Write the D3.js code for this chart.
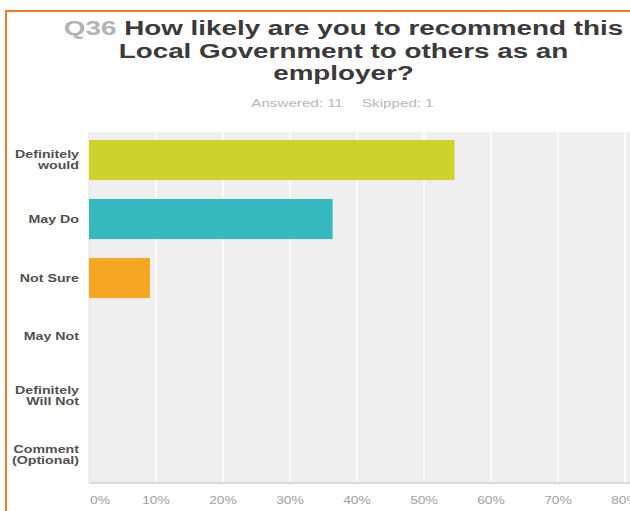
<!DOCTYPE html>
<html>
<head>
<meta charset="utf-8">
<script src="https://cdn.jsdelivr.net/npm/d3@7"></script>
<style>
  html, body { margin: 0; padding: 0; background: #ffffff; overflow: hidden; }
  svg { display: block; font-family: "Liberation Sans", Arial, Helvetica, sans-serif; }
</style>
</head>
<body>
<svg id="chart" width="630" height="511"></svg>
<script>
// ---- data ----
const questionId = "Q36";
const titleLines = ["How likely are you to recommend this", "Local Government to others as an", "employer?"];
const answeredText = "Answered: 11";
const skippedText = "Skipped: 1";
const categories = ["Definitely would", "May Do", "Not Sure", "May Not", "Definitely Will Not", "Comment (Optional)"];
const categoryLines = [["Definitely", "would"], ["May Do"], ["Not Sure"], ["May Not"], ["Definitely", "Will Not"], ["Comment", "(Optional)"]];
const values = [0.5455, 0.3636, 0.0909, 0, 0, 0];
const barColors = ["#cdd32a", "#36b8bf", "#f5a623", "#7fb3d5", "#a77bca", "#e85d75"];
const tickValues = [0, 0.1, 0.2, 0.3, 0.4, 0.5, 0.6, 0.7, 0.8];
const tickLabels = ["0%", "10%", "20%", "30%", "40%", "50%", "60%", "70%", "80%"];

// ---- layout ----
const W = 630, H = 511;
const plot = { left: 89, right: 625, top: 132, bottom: 483 };
const stretch = 1.38;

const svg = d3.select("#chart");

function widen(sel, f) {
  sel.each(function () {
    const w = this.getComputedTextLength();
    this.setAttribute("textLength", w * f);
    this.setAttribute("lengthAdjust", "spacingAndGlyphs");
  });
}

// background
svg.append("rect").attr("width", W).attr("height", H).attr("fill", "#ffffff");

// orange frame (extends beyond right & bottom)
svg.append("rect")
  .attr("x", 6).attr("y", 11).attr("width", 700).attr("height", 600)
  .attr("fill", "none").attr("stroke", "#f07d23").attr("stroke-width", 2);

// title
const cx = 343.5;
const title = svg.append("g").attr("font-weight", "bold").attr("font-size", 20).attr("text-anchor", "middle");
titleLines.forEach((line, i) => {
  const t = title.append("text").attr("x", cx).attr("y", 35 + i * 22.5);
  if (i === 0) {
    t.append("tspan").attr("fill", "#b3b3b3").text(questionId + " ");
  }
  t.append("tspan").attr("fill", "#3a3a3a").text(line);
});
widen(title.selectAll("text"), 1.39);

// answered / skipped
const sub = svg.append("g").attr("font-size", 11).attr("fill", "#b8b8b8");
sub.append("text").attr("x", cx - 0.5).attr("y", 107).attr("text-anchor", "end").text(answeredText);
sub.append("text").attr("x", cx + 18.5).attr("y", 107).attr("text-anchor", "start").text(skippedText);
widen(sub.selectAll("text"), stretch);

// scales
const x = d3.scaleLinear().domain([0, 0.8]).range([plot.left, plot.right]);
const y = d3.scaleBand().domain(categories).range([plot.top, plot.bottom]).paddingInner(0.32).paddingOuter(0.136);

// plot background
svg.append("rect")
  .attr("x", x(0)).attr("y", plot.top)
  .attr("width", W - x(0)).attr("height", plot.bottom - plot.top)
  .attr("fill", "#efefef");

// gridlines
svg.append("g").selectAll("line").data(tickValues.slice(1)).join("line")
  .attr("x1", d => x(d)).attr("x2", d => x(d))
  .attr("y1", plot.top).attr("y2", plot.bottom)
  .attr("stroke", "#fbfbfb").attr("stroke-width", 2);

// left edge & bottom axis line
svg.append("line").attr("x1", x(0)).attr("x2", x(0)).attr("y1", plot.top).attr("y2", plot.bottom)
  .attr("stroke", "#e2e2e2").attr("stroke-width", 1);
svg.append("line").attr("x1", x(0)).attr("x2", W).attr("y1", plot.bottom).attr("y2", plot.bottom)
  .attr("stroke", "#dcdcdc").attr("stroke-width", 2);

// bars
svg.append("g").selectAll("rect").data(categories).join("rect")
  .attr("x", x(0))
  .attr("y", d => y(d))
  .attr("width", (d, i) => x(values[i]) - x(0))
  .attr("height", y.bandwidth())
  .attr("fill", (d, i) => barColors[i]);

// category labels
const catG = svg.append("g").attr("font-size", 10).attr("font-weight", "bold").attr("fill", "#505050").attr("text-anchor", "end");
categories.forEach((c, i) => {
  const lines = categoryLines[i];
  const cy = y(c) + y.bandwidth() / 2;
  lines.forEach((ln, j) => {
    catG.append("text")
      .attr("x", plot.left - 10)
      .attr("y", cy + (j - (lines.length - 1) / 2) * 11.5 + 3.5)
      .text(ln);
  });
});
widen(catG.selectAll("text"), 1.42);

// tick labels
const tickG = svg.append("g").attr("font-size", 10).attr("fill", "#a0a0a0");
tickG.selectAll("text").data(tickValues).join("text")
  .attr("x", (d, i) => i === 0 ? x(d) + 1 : x(d))
  .attr("y", 504)
  .attr("text-anchor", (d, i) => i === 0 ? "start" : "middle")
  .text((d, i) => tickLabels[i]);
widen(tickG.selectAll("text"), stretch);
</script>
</body>
</html>
